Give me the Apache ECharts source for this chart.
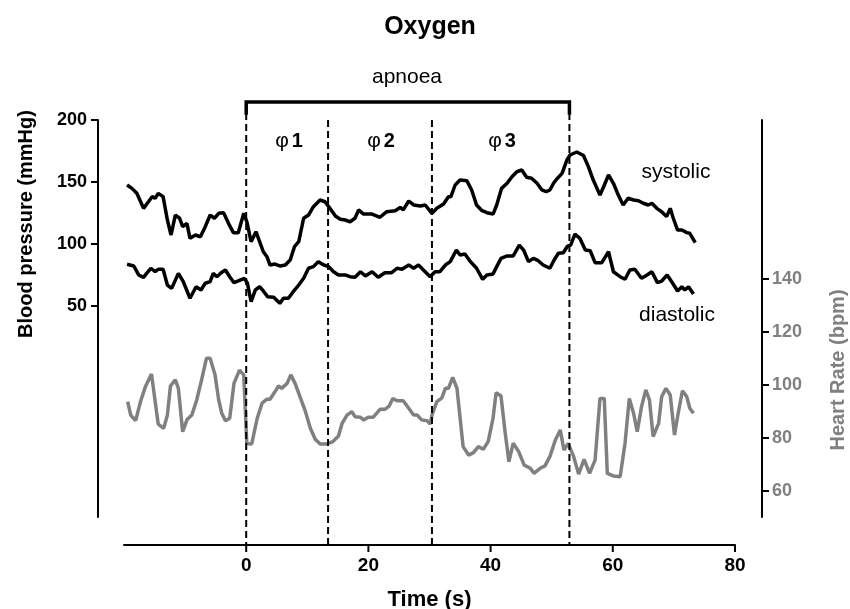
<!DOCTYPE html>
<html>
<head>
<meta charset="utf-8">
<script src="https://cdn.jsdelivr.net/npm/echarts@6/dist/echarts.min.js"></script>
<style>html,body{margin:0;padding:0;background:#fff}#chart{width:850px;height:609px}</style>
</head>
<body>
<div id="chart"></div>
<script>
// ---- data (time s, value) ----
var systolic = [[-19.5,147.6],[-18.7,144.9],[-17.9,140.9],[-16.8,128.8],[-16.0,134.1],[-15.4,138.2],[-14.9,136.9],[-14.4,140.9],[-13.6,138.2],[-12.9,119.4],[-12.3,107.3],[-11.6,123.4],[-10.9,120.8],[-10.4,114.0],[-9.7,116.7],[-9.2,104.6],[-8.3,107.3],[-7.5,105.9],[-6.7,114.0],[-5.9,123.4],[-5.2,120.8],[-4.5,124.8],[-3.7,125.3],[-2.9,116.7],[-2.1,109.2],[-1.3,109.2],[-0.4,124.8],[0.1,118.0],[0.8,101.9],[1.6,110.0],[2.3,100.6],[2.8,93.8],[3.4,89.8],[3.9,83.1],[4.7,83.9],[5.6,82.3],[6.4,83.1],[7.2,87.2],[7.9,97.9],[8.6,101.9],[9.4,120.8],[10.2,123.4],[11.0,130.1],[12.1,135.5],[12.9,134.1],[13.7,128.8],[14.6,122.6],[15.4,120.0],[16.2,119.4],[17.0,118.0],[17.8,120.8],[18.4,127.5],[19.2,124.2],[20.6,124.2],[21.9,121.6],[23.0,126.1],[24.4,126.9],[25.2,129.6],[25.7,127.5],[26.6,134.7],[27.4,131.5],[28.5,130.7],[29.3,131.5],[30.4,124.8],[31.2,128.8],[32.3,132.3],[33.1,138.2],[33.5,138.2],[34.2,147.6],[35.0,151.6],[36.1,151.1],[36.9,143.6],[37.7,131.5],[38.6,126.9],[39.4,125.3],[40.4,124.2],[41.0,131.5],[41.8,144.9],[42.7,149.0],[43.5,154.3],[44.3,158.3],[45.1,159.7],[45.9,153.8],[46.7,153.0],[47.6,149.0],[48.4,143.6],[49.1,142.2],[49.7,143.6],[50.3,149.0],[50.8,152.2],[51.7,157.0],[52.5,167.8],[53.0,171.8],[54.1,174.2],[55.2,171.4],[56.0,162.4],[56.8,151.6],[57.9,139.5],[58.5,146.2],[59.3,155.7],[60.1,149.0],[60.9,139.5],[61.7,131.5],[62.5,136.9],[63.4,135.5],[64.2,134.9],[65.0,132.9],[65.8,131.5],[66.4,132.9],[67.2,128.8],[68.0,126.1],[68.8,122.1],[69.4,128.8],[69.9,120.8],[70.6,111.3],[71.3,111.3],[72.1,109.2],[72.6,108.7],[73.5,101.1]];

var diastolic = [[-19.5,83.7],[-18.4,82.3],[-17.6,75.1],[-16.8,73.2],[-16.3,76.4],[-15.6,80.5],[-14.9,77.7],[-14.4,79.7],[-13.6,79.7],[-12.9,67.0],[-12.2,64.3],[-11.1,76.4],[-10.3,69.7],[-9.2,56.3],[-8.2,65.6],[-7.4,63.0],[-6.7,68.4],[-5.9,69.7],[-5.4,76.4],[-4.8,73.7],[-4.1,76.9],[-3.4,79.1],[-2.7,73.7],[-2.0,68.9],[-1.0,71.0],[-0.3,72.4],[0.2,68.4],[0.8,53.5],[1.5,63.0],[2.2,65.6],[2.8,62.2],[3.5,57.6],[4.5,57.1],[5.5,52.2],[6.1,56.3],[6.9,56.3],[7.7,61.6],[8.6,67.0],[9.4,72.4],[10.2,80.5],[11.0,81.8],[11.8,85.8],[12.7,83.1],[13.5,81.8],[14.3,77.7],[15.1,75.1],[16.2,75.1],[17.0,73.7],[17.8,73.2],[18.7,77.7],[19.5,74.3],[20.6,77.7],[21.6,73.2],[22.7,76.9],[23.8,76.9],[24.7,80.5],[25.5,79.7],[26.6,83.1],[27.4,80.5],[28.2,83.1],[29.0,79.1],[30.1,73.7],[30.9,77.7],[31.7,77.7],[32.6,83.1],[33.4,85.8],[34.4,95.2],[35.0,91.2],[35.8,92.0],[36.7,85.8],[37.7,80.5],[38.7,71.6],[39.4,75.1],[40.4,75.9],[41.0,81.8],[41.7,88.5],[42.7,90.4],[43.7,90.4],[44.7,99.2],[45.4,95.2],[46.2,85.8],[47.0,88.5],[47.8,86.6],[48.6,83.1],[49.7,80.5],[50.4,87.2],[51.1,92.6],[51.9,93.0],[52.6,98.4],[53.1,99.2],[53.8,108.1],[54.6,104.6],[55.5,95.2],[56.3,94.6],[57.1,85.0],[58.2,85.0],[59.3,93.8],[60.1,77.7],[61.2,73.7],[62.0,71.6],[62.8,79.1],[63.6,79.7],[64.7,72.4],[65.6,75.1],[66.4,77.7],[67.3,68.9],[68.0,70.2],[68.9,75.1],[69.8,68.4],[70.6,62.2],[71.3,65.6],[71.8,63.0],[72.4,65.6],[73.2,59.7]];

var heartRate = [[-19.4,93.6],[-18.9,88.5],[-18.1,86.4],[-17.3,93.6],[-16.5,99.2],[-15.5,104.0],[-14.9,93.6],[-14.4,85.1],[-13.5,83.5],[-12.9,88.5],[-12.4,99.5],[-11.6,101.8],[-11.1,98.6],[-10.4,82.2],[-9.7,86.7],[-8.9,88.5],[-8.1,94.2],[-7.3,101.8],[-6.5,110.0],[-5.9,110.0],[-5.1,103.7],[-4.5,94.2],[-4.0,89.2],[-3.4,86.4],[-2.7,87.3],[-2.0,100.5],[-1.1,105.5],[-0.4,103.7],[0.1,77.8],[0.9,77.6],[1.8,87.3],[2.6,93.0],[3.4,94.5],[3.9,94.5],[4.7,97.3],[5.3,99.5],[5.8,98.6],[6.7,100.5],[7.3,103.7],[8.0,100.5],[8.8,95.5],[9.7,89.8],[10.5,83.5],[11.3,79.4],[12.1,77.6],[13.2,77.6],[14.2,78.5],[15.1,80.6],[15.7,85.4],[16.5,88.5],[17.3,89.8],[17.8,87.9],[18.7,87.7],[19.2,86.7],[20.0,87.7],[20.8,87.7],[21.9,90.7],[22.7,90.7],[23.4,91.9],[24.0,94.8],[24.7,93.9],[25.7,93.9],[26.6,91.1],[27.4,88.5],[28.0,88.5],[28.7,86.7],[29.6,86.4],[30.1,85.1],[30.4,88.5],[31.2,93.6],[32.0,94.9],[32.6,98.6],[33.1,98.6],[33.8,102.8],[34.5,98.6],[35.5,76.6],[36.4,73.4],[37.2,74.3],[38.0,76.6],[38.8,75.6],[39.6,78.5],[40.4,87.3],[40.9,97.0],[41.7,95.7],[42.4,81.6],[43.0,70.9],[43.7,77.9],[44.6,74.7],[45.5,69.6],[46.5,68.4],[47.1,66.5],[48.1,68.4],[48.9,69.3],[49.7,72.8],[50.6,79.1],[51.4,82.9],[52.0,75.3],[52.7,77.8],[53.6,72.8],[54.4,66.2],[55.3,71.8],[56.2,66.5],[57.1,71.5],[57.9,94.8],[58.6,94.8],[59.1,66.5],[60.1,65.5],[61.2,65.2],[62.0,77.8],[62.7,94.8],[63.4,89.2],[64.0,82.2],[64.7,91.7],[65.4,98.0],[66.0,94.2],[66.6,80.4],[67.5,85.4],[68.0,95.5],[68.7,98.6],[69.4,96.1],[70.1,81.0],[70.7,89.2],[71.4,97.7],[72.1,95.5],[72.6,91.1],[73.2,89.2]];

var phaseBounds = [0, 13.4, 30.4, 52.9];      // apnoea start, phase edges, apnoea end
var phaseNames = ['φ', 'φ', 'φ'];
var phaseNums = ['1', '2', '3'];
var xTicks = [0, 20, 40, 60, 80];
var bpTicks = [50, 100, 150, 200];
var hrTicks = [60, 80, 100, 120, 140];

// ---- layout ----
var BP_MIN = -120, BP_MAX = 200, HR_MIN = 50, HR_MAX = 200;
var GRID = {left: 124, right: 115, top: 120, bottom: 92};
var X_OFFSET = 28;
var X_TICK_LEN = 7;
var gridH = 609 - GRID.top - GRID.bottom;
var bpPerPx = (BP_MAX - BP_MIN) / gridH;
var dashBottom = BP_MIN - X_OFFSET * bpPerPx;   // reach down to the offset x axis
var bracketLevel = BP_MAX + 18 * bpPerPx;
var legBottom = BP_MAX + 7 * bpPerPx;

var GRAY = '#808080';
var FONT = '"Liberation Sans", Arial, sans-serif';

var series = [
  {type: 'line', name: 'HR', yAxisIndex: 1, data: heartRate, symbol: 'none', z: 2,
   lineStyle: {color: GRAY, width: 3.5}},
  {type: 'line', name: 'systolic', yAxisIndex: 0, data: systolic, symbol: 'none', z: 3,
   lineStyle: {color: '#000', width: 3.5}},
  {type: 'line', name: 'diastolic', yAxisIndex: 0, data: diastolic, symbol: 'none', z: 3,
   lineStyle: {color: '#000', width: 3.5}}
];
phaseBounds.forEach(function (b, i) {
  var outer = (i === 0 || i === phaseBounds.length - 1);
  series.push({type: 'line', yAxisIndex: 0, clip: false, symbol: 'none', silent: true, z: 4,
    data: [[b, outer ? legBottom : BP_MAX], [b, dashBottom]],
    lineStyle: {color: '#000', width: 2, type: [7, 4]}});
});
var a0 = phaseBounds[0], a1 = phaseBounds[phaseBounds.length - 1];
series.push({type: 'line', yAxisIndex: 0, clip: false, symbol: 'none', silent: true, z: 4,
  data: [[a0, legBottom], [a0, bracketLevel], [a1, bracketLevel], [a1, legBottom]],
  lineStyle: {color: '#000', width: 3.5, join: 'miter', cap: 'square'}});
// x-axis tick marks below the offset axis line (custom series, positioned through the x scale)
series.push({
  type: 'custom', yAxisIndex: 0, silent: true, z: 10, clip: false,
  data: xTicks.map(function (t) { return [t, BP_MIN]; }),
  renderItem: function (params, api) {
    var p = api.coord([api.value(0), api.value(1)]);
    var y0 = p[1] + X_OFFSET;
    return {type: 'line', shape: {x1: p[0], y1: y0, x2: p[0], y2: y0 + X_TICK_LEN},
            style: {stroke: '#000', lineWidth: 2}};
  }
});

var chart = echarts.init(document.getElementById('chart'), null, {renderer: 'canvas'});

var graphics = [
  {type: 'text', x: 430, y: 27, style: {text: 'Oxygen', font: 'bold 25px ' + FONT, fill: '#000', textAlign: 'center', textVerticalAlign: 'middle'}},
  {type: 'text', x: 407, y: 77, style: {text: 'apnoea', font: '21px ' + FONT, fill: '#000', textAlign: 'center', textVerticalAlign: 'middle'}},
  {type: 'text', x: 676, y: 172, style: {text: 'systolic', font: '21px ' + FONT, fill: '#000', textAlign: 'center', textVerticalAlign: 'middle'}},
  {type: 'text', x: 677, y: 315, style: {text: 'diastolic', font: '21px ' + FONT, fill: '#000', textAlign: 'center', textVerticalAlign: 'middle'}},
  {type: 'text', x: 26, y: 224, rotation: Math.PI / 2, style: {text: 'Blood pressure (mmHg)', font: 'bold 20px ' + FONT, fill: '#000', textAlign: 'center', textVerticalAlign: 'middle'}},
  {type: 'text', x: 838, y: 370, rotation: Math.PI / 2, style: {text: 'Heart Rate (bpm)', font: 'bold 20px ' + FONT, fill: GRAY, textAlign: 'center', textVerticalAlign: 'middle'}}
];
var phaseX = [289, 381, 502];
for (var i = 0; i < 3; i++) {
  graphics.push({type: 'text', x: phaseX[i], y: 141, style: {
    text: '{a|' + phaseNames[i] + '}{b|' + phaseNums[i] + '}', textAlign: 'center', textVerticalAlign: 'middle',
    rich: {a: {font: '21px ' + FONT, fill: '#000', padding: [0, 3, 0, 0]}, b: {font: 'bold 20px ' + FONT, fill: '#000'}}
  }});
}

chart.setOption({
  animation: false,
  backgroundColor: '#fff',
  grid: {left: GRID.left, right: GRID.right, top: GRID.top, bottom: GRID.bottom, containLabel: false, outerBoundsMode: 'none'},
  xAxis: {
    type: 'value', min: -20, max: 80, interval: 20, position: 'bottom', offset: X_OFFSET,
    axisLine: {show: true, onZero: false, lineStyle: {color: '#000', width: 2}},
    axisTick: {show: false},
    axisLabel: {customValues: xTicks, color: '#000', fontWeight: 'bold', fontSize: 19, fontFamily: FONT, margin: 11},
    splitLine: {show: false},
    name: 'Time (s)', nameLocation: 'middle', nameGap: 44,
    nameTextStyle: {color: '#000', fontWeight: 'bold', fontSize: 22, fontFamily: FONT}
  },
  yAxis: [
    {type: 'value', min: BP_MIN, max: BP_MAX, position: 'left', offset: 26,
     axisLine: {show: true, onZero: false, lineStyle: {color: '#000', width: 2}},
     axisTick: {show: true, inside: false, customValues: bpTicks, length: 7, lineStyle: {color: '#000', width: 2}},
     axisLabel: {customValues: bpTicks, color: '#000', fontWeight: 'bold', fontSize: 18, fontFamily: FONT, margin: 11},
     splitLine: {show: false}},
    {type: 'value', min: HR_MIN, max: HR_MAX, position: 'right', offset: 27,
     axisLine: {show: true, onZero: false, lineStyle: {color: '#000', width: 2}},
     axisTick: {show: true, inside: false, customValues: hrTicks, length: 7, lineStyle: {color: '#000', width: 2}},
     axisLabel: {customValues: hrTicks, color: GRAY, fontWeight: 'bold', fontSize: 18, fontFamily: FONT, margin: 10},
     splitLine: {show: false}}
  ],
  graphic: graphics,
  series: series
});
</script>
</body>
</html>
